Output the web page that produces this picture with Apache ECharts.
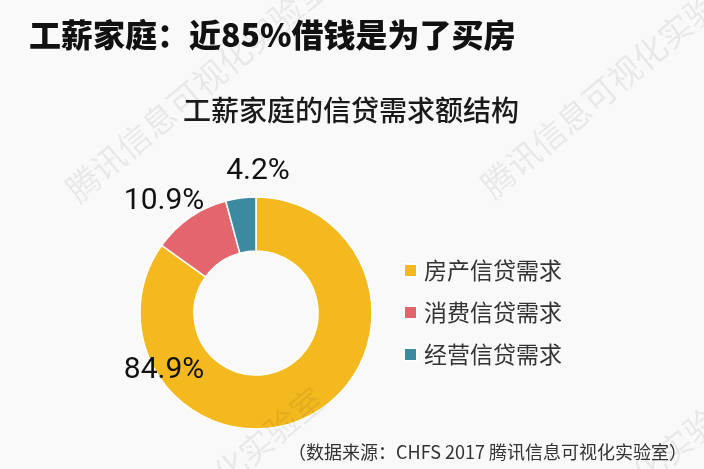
<!DOCTYPE html>
<html>
<head>
<meta charset="utf-8">
<script src="https://cdn.jsdelivr.net/npm/echarts@6/dist/echarts.min.js"></script>
<style>
html,body{margin:0;padding:0;background:#f9f9f9;}
#c{width:704px;height:469px;}
</style>
</head>
<body>
<div id="c"></div>
<script>
// ---- data ----
const categories = ['房产信贷需求', '消费信贷需求', '经营信贷需求'];
const shares = [84.9, 10.9, 4.2];
const labelTexts = ['84.9%', '10.9%', '4.2%'];
const mainTitle = '工薪家庭：近85%借钱是为了买房';
const chartTitle = '工薪家庭的信贷需求额结构';
const sourceNote = '（数据来源：CHFS 2017 腾讯信息可视化实验室）';
const watermark = '腾讯信息可视化实验室';

// ---- styles ----
const colors = ['#F3B91F', '#E2666B', '#3C8AA0'];
const labelPos = [[164, 370], [164, 201], [258, 171]];
const wmCenters = [[197, 88], [612, 84], [193, 500], [612, 500]];

const chart = echarts.init(document.getElementById('c'), null, {renderer: 'canvas'});

const graphics = wmCenters.map(c => ({
  type: 'text',
  x: c[0], y: c[1],
  rotation: 40 * Math.PI / 180,
  z: 100,
  silent: true,
  style: {
    text: watermark,
    fill: 'rgba(0,0,0,0.065)',
    font: '33px "Noto Sans CJK SC", sans-serif',
    align: 'center',
    verticalAlign: 'middle'
  }
}));

chart.setOption({
  backgroundColor: '#f9f9f9',
  color: colors,
  title: [
    {
      text: mainTitle,
      left: 24, top: 14,
      textStyle: {fontFamily: '"Noto Sans CJK SC", sans-serif', fontSize: 32, fontWeight: 900, color: '#111'}
    },
    {
      text: chartTitle,
      left: 346, top: 91, textAlign: 'center',
      textStyle: {fontFamily: '"Noto Sans CJK SC", sans-serif', fontSize: 28, fontWeight: 500, color: '#1a1a1a'}
    },
    {
      text: sourceNote,
      right: 12, top: 438,
      textStyle: {fontFamily: '"Noto Sans CJK SC", sans-serif', fontSize: 18, fontWeight: 'normal', color: '#333'}
    }
  ],
  legend: {
    orient: 'vertical',
    left: 398, top: 254,
    itemWidth: 13, itemHeight: 13,
    itemGap: 19,
    icon: 'rect',
    data: categories,
    textStyle: {fontFamily: '"Noto Sans CJK SC", sans-serif', fontSize: 23, color: '#333', padding: [0, 0, 0, 2]}
  },
  graphic: graphics,
  series: [{
    type: 'pie',
    center: [256, 313],
    radius: [62, 116],
    startAngle: 90,
    clockwise: true,
    silent: true,
    itemStyle: {borderColor: '#fff', borderWidth: 1.5},
    label: {
      show: true,
      position: 'outside',
      formatter: p => labelTexts[p.dataIndex],
      fontFamily: 'Roboto, sans-serif',
      fontWeight: 'normal',
      fontSize: 30,
      color: '#111'
    },
    labelLine: {show: false},
    labelLayout: p => ({
      x: labelPos[p.dataIndex][0],
      y: labelPos[p.dataIndex][1],
      align: 'center',
      verticalAlign: 'middle'
    }),
    data: categories.map((n, i) => ({name: n, value: shares[i]}))
  }]
});
</script>
</body>
</html>
